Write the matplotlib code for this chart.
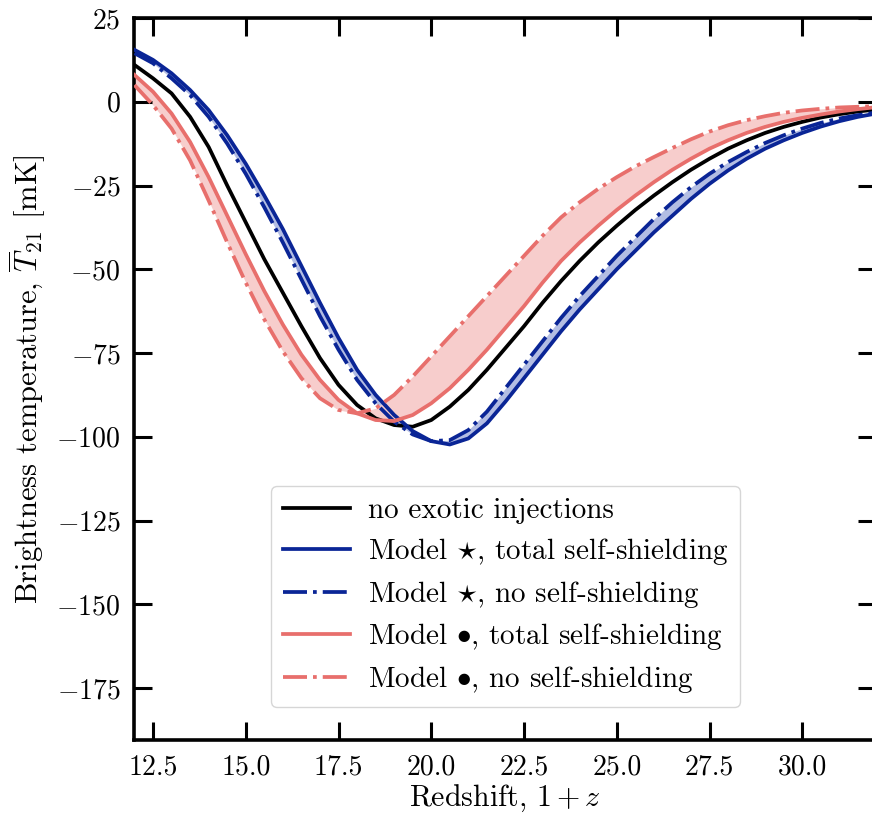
import numpy as np
import matplotlib
matplotlib.use("Agg")
import matplotlib.pyplot as plt

plt.rcParams['font.family'] = 'serif'
plt.rcParams['font.serif'] = ['cmr10', 'DejaVu Serif']
plt.rcParams['mathtext.fontset'] = 'cm'
plt.rcParams['axes.formatter.use_mathtext'] = True
plt.rcParams['axes.unicode_minus'] = True

redshift = [12, 12.5, 13, 13.5, 14, 14.5, 15, 15.5, 16, 16.5, 17, 17.5, 18, 18.5, 19, 19.5,
            20, 20.5, 21, 21.5, 22, 22.5, 23, 23.5, 24, 24.5, 25, 25.5, 26, 26.5, 27, 27.5,
            28, 28.5, 29, 29.5, 30, 30.5, 31, 31.5, 32]

t21_none = [11, 7, 2.5, -4.5, -13.5, -25, -36, -47, -57, -67, -76.5, -84.5, -90.5, -94.5, -96.5, -97,
            -95, -91, -86, -80, -73.5, -67, -60, -53.5, -47.5, -42, -37, -32.3, -28, -24, -20.3, -17,
            -14, -11.5, -9.3, -7.5, -6, -4.7, -3.7, -2.9, -2.3]

t21_star_total = [15.5, 12.5, 8.5, 3.5, -2.5, -10, -18.5, -28, -38, -49, -60, -70.5, -80, -87.5, -93.5, -98.3,
                  -101.3, -102.3, -100.5, -96, -89.5, -82.5, -75.5, -68.5, -62, -56, -50, -44.5, -39, -34, -29, -24.5,
                  -20.5, -17, -14, -11.5, -9.3, -7.4, -5.8, -4.5, -3.5]

t21_star_none = [14.5, 11.5, 7, 2, -4.5, -12.5, -21.5, -31.5, -42, -53, -64, -74, -83, -90, -95.5, -99.3,
                 -101.3, -101, -98, -92.5, -85.5, -78.5, -71.5, -64.5, -58, -52, -46, -40.5, -35, -30, -25.5, -21.5,
                 -18, -15, -12.3, -10, -8, -6.3, -5, -4, -3.2]

t21_dot_total = [8, 3, -3.5, -12, -22.5, -34, -45.5, -56.5, -66.5, -75.5, -83, -89, -93, -95, -95.3, -93.5,
                 -90, -85.5, -80, -74, -67.5, -61, -54, -47.5, -42, -37, -32.3, -28, -24, -20.3, -17, -14,
                 -11.5, -9.3, -7.5, -6, -4.8, -3.8, -2.9, -2.2, -1.6]

t21_dot_none = [5, -1, -8, -17.5, -29.5, -42, -54, -65, -74.5, -82.5, -88.5, -92, -93, -91.5, -87.5, -82,
                -76, -70, -64, -58, -52, -46, -40, -34.5, -30, -26, -22.5, -19.3, -16.5, -13.8, -11.2, -8.9,
                -7, -5.5, -4.3, -3.3, -2.6, -2.1, -1.7, -1.5, -1.3]

labels = ["no exotic injections",
          r"Model $\star$, total self-shielding",
          r"Model $\star$, no self-shielding",
          r"Model $\bullet$, total self-shielding",
          r"Model $\bullet$, no self-shielding"]

blue = '#0a2596'
pink = '#e86f6c'

fig = plt.figure(figsize=(8.72, 8.19), dpi=100)
ax = fig.add_axes([0.1542, 0.0965, 0.8509, 0.8815])

ax.fill_between(redshift, t21_star_total, t21_star_none, color='#b3bde3', lw=0, zorder=1)
ax.fill_between(redshift, t21_dot_total, t21_dot_none, color='#f7cdcc', lw=0, zorder=1)

lw = 2.7
ax.plot(redshift, t21_none, color='black', lw=lw, label=labels[0], zorder=3)
ax.plot(redshift, t21_star_total, color=blue, lw=lw, ls='-', label=labels[1], zorder=3)
ax.plot(redshift, t21_star_none, color=blue, lw=lw, ls='-.', label=labels[2], zorder=3)
ax.plot(redshift, t21_dot_total, color=pink, lw=lw, ls='-', label=labels[3], zorder=3)
ax.plot(redshift, t21_dot_none, color=pink, lw=lw, ls='-.', label=labels[4], zorder=3)

ax.set_xlim(12, 32)
ax.set_ylim(-190.5, 25)
ax.set_xticks([12.5, 15.0, 17.5, 20.0, 22.5, 25.0, 27.5, 30.0])
ax.set_xticklabels(["12.5", "15.0", "17.5", "20.0", "22.5", "25.0", "27.5", "30.0"])
ax.set_yticks([-175, -150, -125, -100, -75, -50, -25, 0, 25])
ax.set_yticklabels([r"$-175$", r"$-150$", r"$-125$", r"$-100$", r"$-75$", r"$-50$", r"$-25$", r"$0$", r"$25$"])

ax.tick_params(direction='in', top=True, right=True, length=13, width=2.2, labelsize=20, pad=10)
for s in ax.spines.values():
    s.set_linewidth(2.6)

ax.set_xlabel(r"Redshift, $1+z$", fontsize=21.5, labelpad=2)
ax.set_ylabel(r"Brightness temperature, $\overline{T}_{21}$ [mK]", fontsize=22, labelpad=6)

leg = ax.legend(loc='lower center', bbox_to_anchor=(0.5, 0.046), borderaxespad=0, fontsize=21,
                frameon=True, fancybox=True, framealpha=0.8, edgecolor='#cccccc', handlelength=2.3,
                handletextpad=0.6, borderpad=0.4, labelspacing=0.4)

fig.savefig("out.png", dpi=100)
